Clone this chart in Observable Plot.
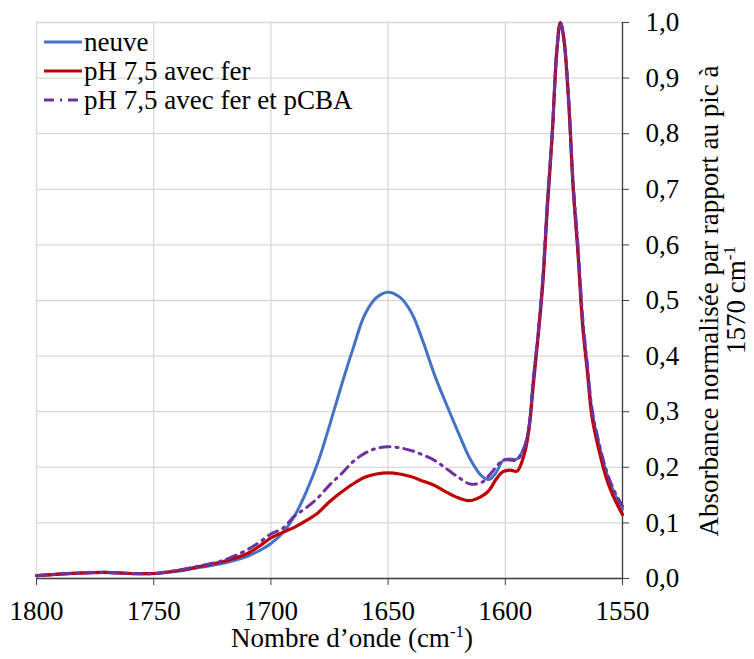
<!DOCTYPE html>
<html>
<head>
<meta charset="utf-8">
<script src="https://cdn.jsdelivr.net/npm/d3@7"></script>
<script src="https://cdn.jsdelivr.net/npm/@observablehq/plot@0.6"></script>
<style>
  html, body { margin: 0; padding: 0; background: #fff; }
  #chart { width: 754px; height: 659px; }
</style>
</head>
<body>
<div id="chart"></div>
<script>
// Wavenumbers (cm-1)
const wavenumbers = [1800,1790,1780,1770,1760,1750,1740,1730,1720,1710,1705,1700,1695,1690,1685,1680,1675,1670,1665,1660,1655,1650,1645,1640,1635,1630,1625,1620,1615,1610,1607,1604,1601,1598,1595,1592,1590,1588,1586,1584,1582,1580,1578,1576.5,1575,1573,1571,1569,1567,1565,1563,1560,1557,1554,1550];

const neuve = [0.005,0.008,0.010,0.011,0.009,0.009,0.013,0.020,0.028,0.040,0.050,0.063,0.082,0.112,0.155,0.208,0.275,0.346,0.413,0.474,0.505,0.515,0.506,0.478,0.425,0.364,0.312,0.262,0.215,0.184,0.178,0.190,0.212,0.215,0.215,0.235,0.270,0.360,0.440,0.540,0.680,0.800,0.950,1.000,0.970,0.860,0.700,0.590,0.460,0.380,0.300,0.240,0.192,0.158,0.125];

const ph75Fer = [0.005,0.008,0.010,0.011,0.009,0.009,0.014,0.022,0.031,0.045,0.058,0.073,0.083,0.092,0.104,0.118,0.138,0.155,0.170,0.182,0.188,0.190,0.188,0.183,0.175,0.167,0.155,0.145,0.140,0.148,0.158,0.178,0.192,0.195,0.193,0.222,0.265,0.350,0.435,0.530,0.670,0.795,0.950,1.000,0.970,0.860,0.700,0.585,0.455,0.372,0.290,0.230,0.182,0.148,0.115];

const ph75FerPcba = [0.005,0.008,0.010,0.011,0.009,0.009,0.015,0.023,0.033,0.052,0.065,0.080,0.090,0.112,0.127,0.145,0.168,0.188,0.210,0.225,0.234,0.237,0.235,0.230,0.222,0.212,0.197,0.182,0.170,0.173,0.185,0.200,0.213,0.213,0.213,0.235,0.270,0.360,0.440,0.540,0.680,0.800,0.950,1.000,0.970,0.865,0.710,0.600,0.470,0.385,0.305,0.243,0.196,0.162,0.130];

const seriesNames = ["neuve", "pH 7,5 avec fer", "pH 7,5 avec fer et pCBA"];
const xTicks = [1800, 1750, 1700, 1650, 1600, 1550];
const yTicks = [0, 0.1, 0.2, 0.3, 0.4, 0.5, 0.6, 0.7, 0.8, 0.9, 1.0];

const rows = (vals, name) => wavenumbers.map((w, i) => ({wn: w, a: vals[i], s: name}));
const dNeuve = rows(neuve, seriesNames[0]);
const dFer = rows(ph75Fer, seriesNames[1]);
const dPcba = rows(ph75FerPcba, seriesNames[2]);

const FONT = "'Liberation Serif', 'Times New Roman', serif";
const yFmt = d => d.toFixed(1).replace(".", ",");

const plot = Plot.plot({
  width: 754,
  height: 659,
  marginLeft: 36,
  marginRight: 132,
  marginTop: 22,
  marginBottom: 81,
  style: {fontFamily: FONT, fontSize: "27px", color: "#000", background: "#fff"},
  x: {domain: [1800, 1550], label: null},
  y: {domain: [0, 1], label: null},
  marks: [
    Plot.gridX(xTicks, {stroke: "#d9d9d9", strokeOpacity: 1, strokeWidth: 1.3}),
    Plot.gridY(yTicks, {stroke: "#d9d9d9", strokeOpacity: 1, strokeWidth: 1.3}),
    Plot.axisX({ticks: xTicks, tickFormat: d => String(d), tickSize: 7, tickPadding: 15, stroke: "#404040", fill: "#000", label: null}),
    Plot.axisY({anchor: "right", ticks: yTicks, tickFormat: yFmt, tickSize: 6, tickPadding: 17, stroke: "#404040", fill: "#000", label: null}),
    Plot.ruleY([0], {stroke: "#404040", strokeWidth: 1.3}),
    Plot.ruleX([1550], {stroke: "#404040", strokeWidth: 1.3}),
    Plot.line(dNeuve, {x: "wn", y: "a", stroke: "#4472C4", strokeWidth: 3, curve: "catmull-rom"}),
    Plot.line(dFer, {x: "wn", y: "a", stroke: "#C00000", strokeWidth: 3.2, curve: "catmull-rom"}),
    Plot.line(dPcba, {x: "wn", y: "a", stroke: "#7030A0", strokeWidth: 3, strokeDasharray: "10,6,2,6", curve: "catmull-rom"})
  ]
});

document.getElementById("chart").appendChild(plot);

// Titles and legend (text)
const svg = d3.select(plot);
const g = svg.append("g").attr("font-family", FONT).attr("font-size", 27).attr("fill", "#000");

// X axis title
const xt = g.append("text").attr("x", 352).attr("y", 647).attr("text-anchor", "middle");
xt.append("tspan").text("Nombre d\u2019onde (cm");
xt.append("tspan").attr("font-size", 17).attr("dy", -10).text("-1");
xt.append("tspan").attr("dy", 10).text(")");

// Y axis title (two lines, rotated)
g.append("text").attr("transform", "translate(718,301) rotate(-90)").attr("text-anchor", "middle")
  .text("Absorbance normalisée par rapport au pic à");
const yt2 = g.append("text").attr("transform", "translate(745,300) rotate(-90)").attr("text-anchor", "middle");
yt2.append("tspan").text("1570 cm");
yt2.append("tspan").attr("font-size", 17).attr("dy", -10).text("-1");

// Legend
const legend = [
  {name: seriesNames[0], color: "#4472C4", dash: null, w: 3},
  {name: seriesNames[1], color: "#C00000", dash: null, w: 3.2},
  {name: seriesNames[2], color: "#7030A0", dash: "10,6,2,6", w: 3}
];
legend.forEach((d, i) => {
  const y = 42 + i * 29;
  g.append("line").attr("x1", 44).attr("x2", 82).attr("y1", y).attr("y2", y)
    .attr("stroke", d.color).attr("stroke-width", d.w).attr("stroke-dasharray", d.dash);
  g.append("text").attr("x", 84).attr("y", y + 9).attr("text-anchor", "start").text(d.name);
});
</script>
</body>
</html>
